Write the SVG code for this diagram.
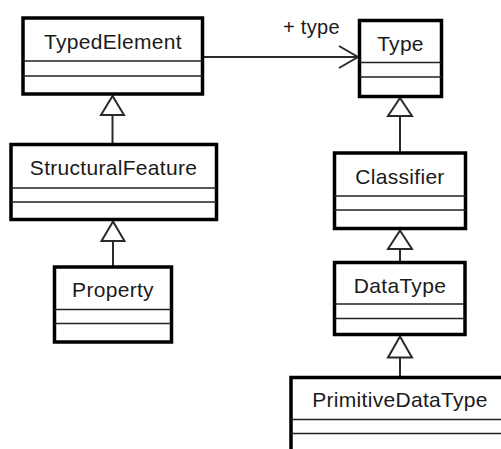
<svg xmlns="http://www.w3.org/2000/svg" width="501" height="449" viewBox="0 0 501 449">
  <style>
    .frame { fill: #ffffff; stroke: #000000; stroke-width: 3.5; }
    .sep { stroke: #222222; stroke-width: 1.5; fill: none; }
    .name { font-family: "Liberation Sans", Arial, sans-serif; font-size: 21px; fill: #1a1a1a; text-anchor: middle; letter-spacing: 0.3px; }
    .role { font-family: "Liberation Sans", Arial, sans-serif; font-size: 20px; fill: #1a1a1a; letter-spacing: 0.3px; }
    .edge { stroke: #2a2a2a; stroke-width: 2; fill: none; }
    .gen { stroke: #2a2a2a; stroke-width: 2; fill: #ffffff; stroke-linejoin: miter; }
  </style>
  <rect width="501" height="449" fill="#ffffff"/>

  <!-- connectors: association and generalizations -->
  <g id="connectors">
    <path class="edge" d="M202.5 57 H358"/>
    <polyline class="edge" points="339,46 358,57 339,68"/>
    <text class="role" x="283" y="34">+ type</text>

    <path class="edge" d="M112.5 115 V144"/>
    <polygon class="gen" points="112.5,96 101,115 124,115"/>

    <path class="edge" d="M113 241 V267"/>
    <polygon class="gen" points="113,221.5 101.5,241 124.5,241"/>

    <path class="edge" d="M400 116 V153"/>
    <polygon class="gen" points="400,98 388,116 412,116"/>

    <path class="edge" d="M400 249 V262.5"/>
    <polygon class="gen" points="400,230.5 388,249 412,249"/>

    <path class="edge" d="M400 357.5 V377.5"/>
    <polygon class="gen" points="400,336.5 388,357.5 412,357.5"/>
  </g>

  <g id="TypedElement">
    <rect class="frame" x="23" y="18" width="179.5" height="76"/>
    <path class="sep" d="M23 61 H202.5 M23 76 H202.5"/>
    <text class="name" x="113" y="49">TypedElement</text>
  </g>

  <g id="StructuralFeature">
    <rect class="frame" x="11" y="144.5" width="205.5" height="75"/>
    <path class="sep" d="M11 188 H216.5 M11 202 H216.5"/>
    <text class="name" x="113.5" y="175">StructuralFeature</text>
  </g>

  <g id="Property">
    <rect class="frame" x="54.5" y="267" width="117" height="75"/>
    <path class="sep" d="M54.5 309.5 H171.5 M54.5 323.5 H171.5"/>
    <text class="name" x="113" y="297">Property</text>
  </g>

  <g id="Type">
    <rect class="frame" x="359.5" y="20.5" width="82" height="76"/>
    <path class="sep" d="M359.5 62.5 H441.5 M359.5 77 H441.5"/>
    <text class="name" x="400.5" y="50.5">Type</text>
  </g>

  <g id="Classifier">
    <rect class="frame" x="334.5" y="153" width="131" height="75.5"/>
    <path class="sep" d="M334.5 196 H465.5 M334.5 210 H465.5"/>
    <text class="name" x="400" y="184">Classifier</text>
  </g>

  <g id="DataType">
    <rect class="frame" x="334.5" y="262.5" width="130.5" height="72"/>
    <path class="sep" d="M334.5 304 H465 M334.5 318.5 H465"/>
    <text class="name" x="400" y="292.5">DataType</text>
  </g>

  <g id="PrimitiveDataType">
    <rect class="frame" x="291" y="377.5" width="219" height="80"/>
    <path class="sep" d="M291 419.5 H510 M291 433.5 H510"/>
    <text class="name" x="400" y="407">PrimitiveDataType</text>
  </g>
</svg>
